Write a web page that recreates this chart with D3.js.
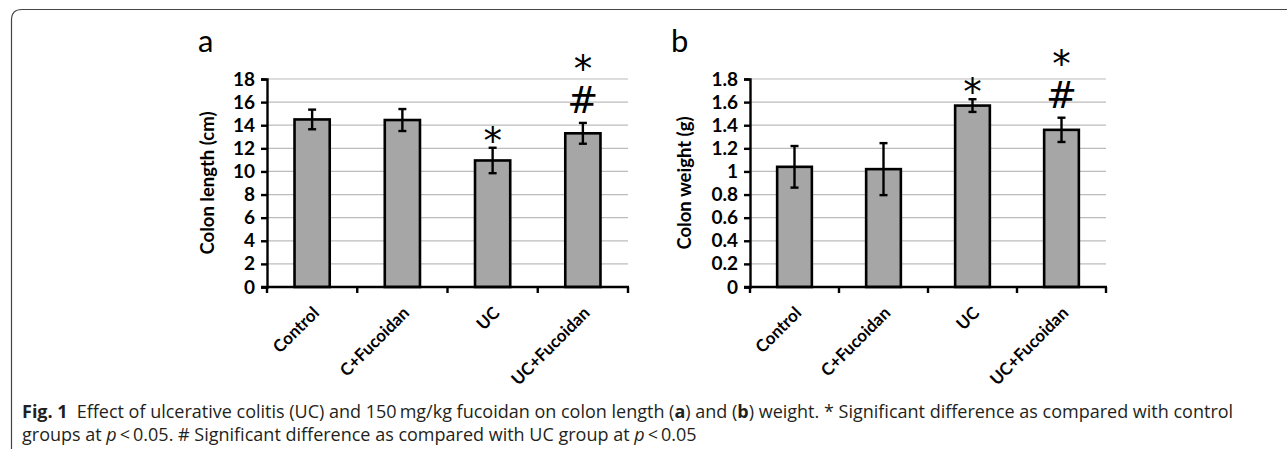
<!DOCTYPE html>
<html>
<head>
<meta charset="utf-8">
<script src="https://cdn.jsdelivr.net/npm/d3@7"></script>
<style>
  body { margin: 0; background: #fff; }
  svg { display: block; }
</style>
</head>
<body>
<div id="fig"></div>
<script>
// data
const groups = ['Control', 'C+Fucoidan', 'UC', 'UC+Fucoidan'];

const lengthMean = [14.5, 14.45, 10.95, 13.3];
const lengthErr = [0.85, 0.95, 1.1, 0.9];
const lengthTicks = [0, 2, 4, 6, 8, 10, 12, 14, 16, 18];
const lengthMarks = ['', '', '*', '*#'];

const weightMean = [1.04, 1.02, 1.57, 1.36];
const weightErr = [0.18, 0.225, 0.055, 0.105];
const weightTicks = ['0', '0.2', '0.4', '0.6', '0.8', '1', '1.2', '1.4', '1.6', '1.8'];
const weightMarks = ['', '', '*', '*#'];

const W = 1287, H = 450;
const chartFont = 'Lato, "Open Sans", sans-serif';
const markFont = '"DejaVu Sans", sans-serif';

const svg = d3.select('#fig').append('svg')
  .attr('width', W)
  .attr('height', H);

// frame round the figure
svg.append('path')
  .attr('d', 'M11.5,449 L11.5,20 Q11.5,9.5 22,9.5 L1290,9.5')
  .attr('fill', 'none')
  .attr('stroke', '#444')
  .attr('stroke-width', 1.2);

function drawPanel(p) {
  const g = svg.append('g');

  const y = d3.scaleLinear().domain([0, 1.8 * p.unit]).range([p.bottom, p.top]);
  const slot = d3.scaleBand().domain(groups).range([p.left, p.right]).padding(0);
  const bw = slot.bandwidth();

  // gridlines
  g.append('g')
    .selectAll('line')
    .data(p.ticks.slice(1))
    .enter()
    .append('line')
    .attr('x1', p.left)
    .attr('x2', p.right)
    .attr('y1', (d) => y(+d))
    .attr('y2', (d) => y(+d))
    .attr('stroke', '#bcbcbc')
    .attr('stroke-width', 1.2);

  // y axis
  const yAxis = g.append('g')
    .attr('transform', `translate(${p.left},0)`)
    .call(d3.axisLeft(y).tickValues(p.ticks.map(Number)).tickSize(6).tickPadding(6)
      .tickFormat((d, i) => String(p.ticks[i])));
  yAxis.select('.domain').attr('stroke', '#000').attr('stroke-width', 2.4);
  yAxis.selectAll('.tick line').attr('stroke', '#000').attr('stroke-width', 2.4);
  yAxis.selectAll('.tick text')
    .style('font-family', chartFont)
    .style('font-weight', 'bold')
    .style('font-size', '19px')
    .attr('fill', '#000');

  // bars
  g.append('g')
    .selectAll('rect')
    .data(groups)
    .enter()
    .append('rect')
    .attr('x', (d) => slot(d) + bw * 0.305)
    .attr('width', bw * 0.39)
    .attr('y', (d, i) => y(p.mean[i]))
    .attr('height', (d, i) => p.bottom - y(p.mean[i]))
    .attr('fill', '#a6a6a6')
    .attr('stroke', '#000')
    .attr('stroke-width', 2.6);

  // error bars
  const eb = g.append('g').attr('stroke', '#000').attr('stroke-width', 2.4);
  groups.forEach((d, i) => {
    const cx = slot(d) + bw / 2;
    const hi = y(p.mean[i] + p.err[i]);
    const lo = y(p.mean[i] - p.err[i]);
    eb.append('line').attr('x1', cx).attr('x2', cx).attr('y1', hi).attr('y2', lo);
    eb.append('line').attr('x1', cx - 4).attr('x2', cx + 4).attr('y1', hi).attr('y2', hi);
    eb.append('line').attr('x1', cx - 4).attr('x2', cx + 4).attr('y1', lo).attr('y2', lo);

    // significance marks; two marks are set as one vertical column
    const m = p.marks[i];
    if (!m) return;
    const t = g.append('text')
      .attr('fill', '#000')
      .style('font-family', markFont)
      .style('font-size', '37px')
      .text(m);
    if (m.length === 1) {
      t.attr('x', cx).attr('y', hi - 16 + 22).attr('text-anchor', 'middle');
    } else {
      t.attr('x', cx)
        .attr('y', hi - 75)
        .style('writing-mode', 'vertical-rl')
        .style('text-orientation', 'upright')
        .style('letter-spacing', '-12px');
    }
  });

  // x axis line and boundary ticks
  const xb = g.append('g').attr('stroke', '#000').attr('stroke-width', 2.4);
  xb.append('line').attr('x1', p.left - 6).attr('x2', p.right + 1).attr('y1', p.bottom).attr('y2', p.bottom);
  d3.range(groups.length + 1).forEach((k) => {
    const x = p.left + k * bw;
    xb.append('line').attr('x1', x).attr('x2', x).attr('y1', p.bottom).attr('y2', p.bottom + 6);
  });

  // category labels
  g.append('g')
    .selectAll('text')
    .data(groups)
    .enter()
    .append('text')
    .attr('transform', (d) => `translate(${slot(d) + bw / 2 + 8},${p.bottom + 27}) rotate(-45)`)
    .attr('text-anchor', 'end')
    .style('font-family', chartFont)
    .style('font-weight', 'bold')
    .style('font-size', '17px')
    .attr('fill', '#000')
    .text((d) => d);

  // y title
  g.append('text')
    .attr('transform', `translate(${p.titleX},${(p.top + p.bottom) / 2}) rotate(-90)`)
    .attr('text-anchor', 'middle')
    .style('font-family', chartFont)
    .style('font-weight', 'bold')
    .style('font-size', '18.5px')
    .attr('fill', '#000')
    .text(p.title);

  // panel letter
  g.append('text')
    .attr('x', p.letterX)
    .attr('y', 52)
    .style('font-family', chartFont)
    .style('font-size', '31px')
    .attr('fill', '#000')
    .text(p.letter);
}

drawPanel({
  left: 267, right: 628, top: 79, bottom: 287, unit: 10,
  mean: lengthMean, err: lengthErr, ticks: lengthTicks, marks: lengthMarks,
  title: 'Colon length (cm)', titleX: 214, letter: 'a', letterX: 198
});

drawPanel({
  left: 750, right: 1106, top: 79, bottom: 287, unit: 1,
  mean: weightMean, err: weightErr, ticks: weightTicks, marks: weightMarks,
  title: 'Colon weight (g)', titleX: 691, letter: 'b', letterX: 671
});

// caption
const cap = svg.append('g')
  .style('font-family', '"Open Sans", sans-serif')
  .style('font-size', '18px')
  .attr('fill', '#231f20');

const line1 = cap.append('text').attr('x', 22).attr('y', 418);
line1.append('tspan').style('font-weight', 'bold').text('Fig. 1');
line1.append('tspan').text('\u2002Effect of ulcerative colitis (UC) and 150\u2009mg/kg fucoidan on colon length (');
line1.append('tspan').style('font-weight', 'bold').text('a');
line1.append('tspan').text(') and (');
line1.append('tspan').style('font-weight', 'bold').text('b');
line1.append('tspan').text(') weight. * Significant difference as compared with control');

const line2 = cap.append('text').attr('x', 22).attr('y', 441);
line2.append('tspan').text('groups at ');
line2.append('tspan').style('font-style', 'italic').text('p');
line2.append('tspan').text('\u2009<\u20090.05. # Significant difference as compared with UC group at ');
line2.append('tspan').style('font-style', 'italic').text('p');
line2.append('tspan').text('\u2009<\u20090.05');
</script>
</body>
</html>
